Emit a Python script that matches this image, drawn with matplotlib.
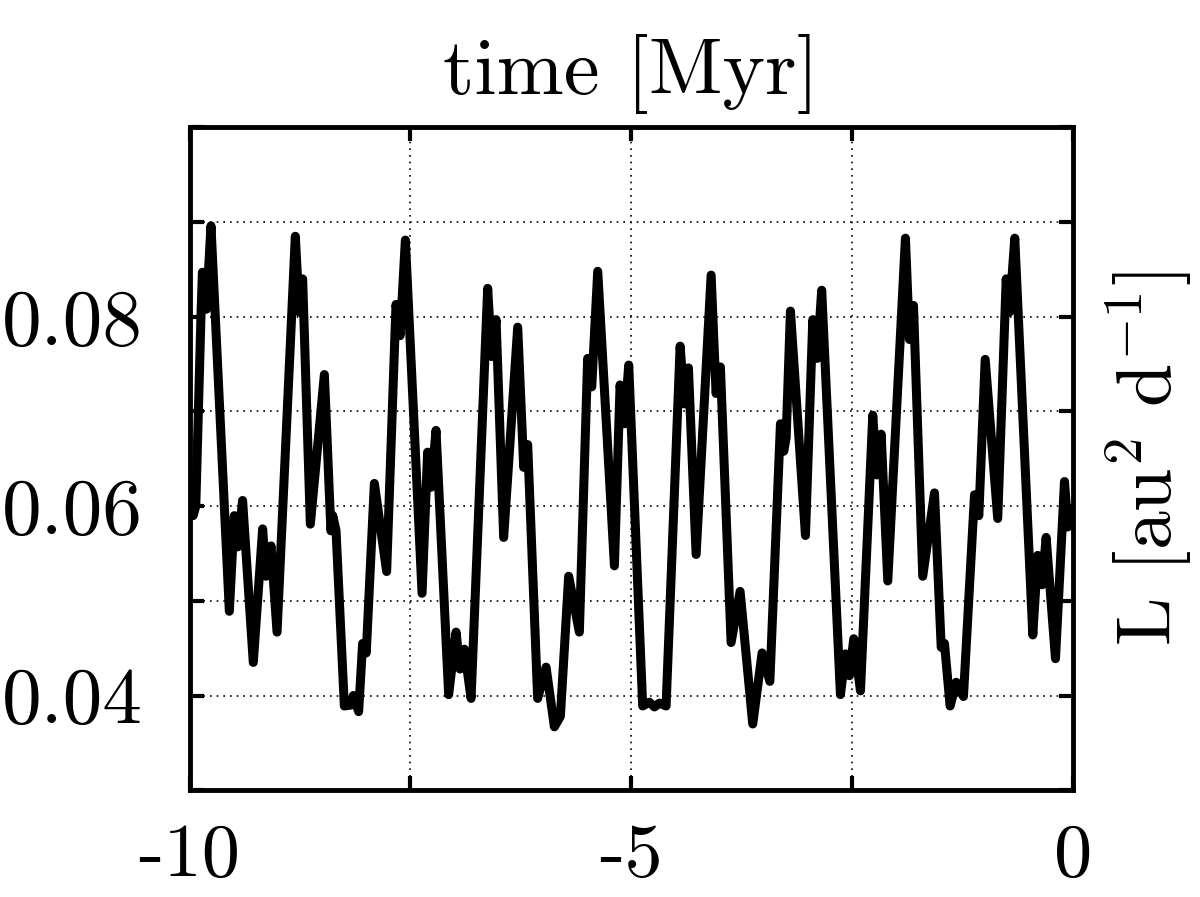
import numpy as np
import matplotlib
matplotlib.use('Agg')
from matplotlib import pyplot as plt

# values
time_myr = [-10.0, -9.96, -9.93, -9.87, -9.855, -9.81, -9.758, -9.55, -9.494, -9.456,
            -9.40, -9.279, -9.173, -9.135, -9.078, -9.01, -8.803, -8.758, -8.72, -8.633,
            -8.474, -8.40, -8.379, -8.342, -8.248, -8.172, -8.146, -8.086, -8.041, -8.00,
            -7.908, -7.769, -7.663, -7.617, -7.557, -7.368, -7.305, -7.266, -7.21, -7.067,
            -6.983, -6.938, -6.889, -6.813, -6.625, -6.58, -6.53, -6.444, -6.285, -6.217,
            -6.172, -6.059, -5.964, -5.87, -5.802, -5.708, -5.587, -5.493, -5.447, -5.379,
            -5.19, -5.126, -5.077, -5.028, -4.87, -4.794, -4.737, -4.681, -4.605, -4.446,
            -4.398, -4.352, -4.265, -4.095, -4.039, -3.99, -3.869, -3.767, -3.624, -3.518,
            -3.43, -3.31, -3.273, -3.246, -3.197, -3.027, -2.944, -2.895, -2.843, -2.631,
            -2.574, -2.529, -2.48, -2.404, -2.265, -2.22, -2.17, -2.095, -1.895, -1.849,
            -1.804, -1.699, -1.566, -1.49, -1.453, -1.389, -1.32, -1.238, -1.113, -1.064,
            -0.992, -0.85, -0.754, -0.717, -0.657, -0.453, -0.397, -0.347, -0.302, -0.196,
            -0.094, -0.057, 0.0]
ang_mom = [0.0625, 0.0590, 0.0600, 0.0805, 0.0847, 0.0808, 0.0896, 0.0489, 0.0590, 0.0557,
           0.0606, 0.0435, 0.0576, 0.0526, 0.0558, 0.0467, 0.0885, 0.0805, 0.0840, 0.0581,
           0.0739, 0.0574, 0.0590, 0.0574, 0.0389, 0.0390, 0.0400, 0.0383, 0.0455, 0.0445,
           0.0624, 0.0531, 0.0813, 0.0780, 0.0881, 0.0508, 0.0657, 0.0620, 0.0680, 0.0401,
           0.0467, 0.0428, 0.0449, 0.0397, 0.0830, 0.0758, 0.0797, 0.0567, 0.0789, 0.0641,
           0.0665, 0.0397, 0.0430, 0.0367, 0.0378, 0.0526, 0.0467, 0.0756, 0.0726, 0.0848,
           0.0537, 0.0728, 0.0687, 0.0749, 0.0389, 0.0393, 0.0388, 0.0392, 0.0389, 0.0769,
           0.0708, 0.0746, 0.0549, 0.0844, 0.0719, 0.0747, 0.0456, 0.0510, 0.0370, 0.0445,
           0.0415, 0.0687, 0.0658, 0.0672, 0.0806, 0.0569, 0.0797, 0.0756, 0.0828, 0.0401,
           0.0444, 0.0421, 0.0460, 0.0405, 0.0696, 0.0633, 0.0676, 0.0521, 0.0883, 0.0776,
           0.0812, 0.0526, 0.0614, 0.0451, 0.0455, 0.0389, 0.0414, 0.0399, 0.0612, 0.0590,
           0.0755, 0.0587, 0.0840, 0.0805, 0.0883, 0.0464, 0.0548, 0.0517, 0.0567, 0.0439,
           0.0626, 0.0578, 0.0600]

x_ticks = [-10, -7.5, -5, -2.5, 0]
x_labels = ['-10', '', '-5', '', '0']
y_ticks = [0.03, 0.04, 0.05, 0.06, 0.07, 0.08, 0.09, 0.10]
y_labels = ['', '0.04', '', '0.06', '', '0.08', '', '']

plt.rcParams['font.family'] = 'cmr10'
plt.rcParams['mathtext.fontset'] = 'cm'
plt.rcParams['axes.unicode_minus'] = False
plt.rcParams['axes.formatter.use_mathtext'] = True

fig = plt.figure(figsize=(12, 8.97), dpi=100)
ax = fig.add_axes([0.158, 0.119, 0.736, 0.739])

ax.plot(time_myr, ang_mom, color='black', linewidth=6.5,
        solid_joinstyle='round', solid_capstyle='butt')

ax.set_xlim(-10, 0)
ax.set_ylim(0.03, 0.10)
ax.set_xticks(x_ticks)
ax.set_xticklabels(x_labels)
ax.set_yticks(y_ticks)
ax.set_yticklabels(y_labels)

ax.grid(True, color='black', linestyle=(0, (1, 3)), linewidth=1.2)
ax.tick_params(direction='in', length=10, width=3, top=True, right=True)
ax.tick_params(axis='y', pad=34, labelsize=57)
ax.tick_params(axis='x', pad=24, labelsize=55)
for sp in ax.spines.values():
    sp.set_linewidth(3.5)

ax.set_title('time [Myr]', fontsize=58, pad=24)
ax.yaxis.set_label_position('right')
ax.set_ylabel(r'L [au$^2$ d$^{-1}$]', fontsize=56, labelpad=22)

fig.savefig('out.png', dpi=100)
